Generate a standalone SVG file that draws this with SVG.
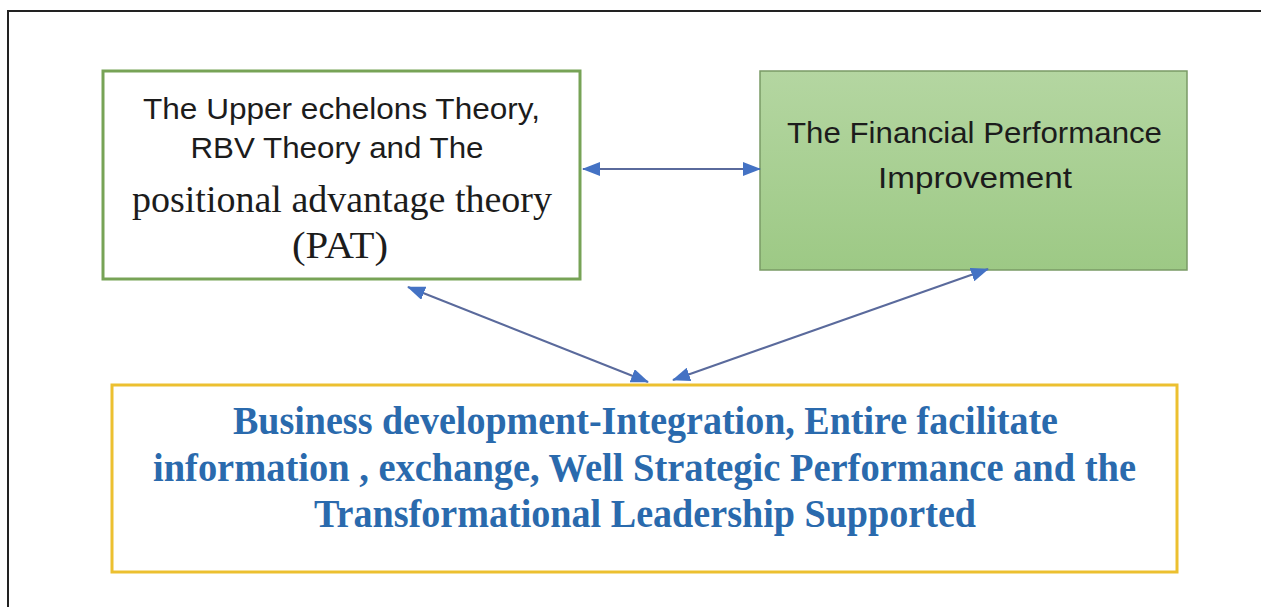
<svg xmlns="http://www.w3.org/2000/svg" width="1261" height="607" viewBox="0 0 1261 607">
<style>
.sans{font-family:"Liberation Sans","DejaVu Sans",sans-serif;fill:#1c1c1c;text-anchor:middle}
.serif{font-family:"Liberation Serif","DejaVu Serif",serif;fill:#1c1c1c;text-anchor:middle}
.bold{font-family:"Liberation Serif","DejaVu Serif",serif;font-weight:bold;fill:#2a6aad;text-anchor:middle;font-size:40px}
.conn{stroke:#5a6a9c;stroke-width:2;fill:none;marker-start:url(#ah);marker-end:url(#ah)}
</style>
<defs>
<marker id="ah" viewBox="0 0 18 14" refX="17" refY="7" markerWidth="18" markerHeight="14" markerUnits="userSpaceOnUse" orient="auto-start-reverse">
<path d="M0,0 L18,7 L0,14 Z" fill="#4472c4"/>
</marker>
<linearGradient id="gr" x1="0" y1="0" x2="0" y2="1">
<stop offset="0" stop-color="#b4d6a1"/>
<stop offset="1" stop-color="#9dc985"/>
</linearGradient>
</defs>
<rect width="1261" height="607" fill="#ffffff"/>
<path d="M8,607 L8,11 L1261,11" fill="none" stroke="#222" stroke-width="2"/>
<g id="node-theories">
<rect x="103" y="71" width="477" height="208" fill="#ffffff" stroke="#77a356" stroke-width="3"/>
<text class="sans" x="341.5" y="119" font-size="30" textLength="397" lengthAdjust="spacingAndGlyphs">The Upper echelons Theory,</text>
<text class="sans" x="337" y="158" font-size="30" textLength="293" lengthAdjust="spacingAndGlyphs">RBV Theory and The</text>
<text class="serif" x="342" y="212" font-size="37" textLength="420" lengthAdjust="spacingAndGlyphs">positional advantage theory</text>
<text class="serif" x="340" y="258" font-size="37" textLength="96" lengthAdjust="spacingAndGlyphs">(PAT)</text>
</g>
<g id="node-financial">
<rect x="760" y="71" width="427" height="199" fill="url(#gr)" stroke="#7a9a66" stroke-width="1.5"/>
<text class="sans" x="974.5" y="143" font-size="30" fill="#1e2a1a" textLength="375" lengthAdjust="spacingAndGlyphs">The Financial Performance</text>
<text class="sans" x="975" y="188" font-size="30" fill="#1e2a1a" textLength="194" lengthAdjust="spacingAndGlyphs">Improvement</text>
</g>
<g id="node-business">
<rect x="112" y="385" width="1065" height="187" fill="#ffffff" stroke="#ecc030" stroke-width="3"/>
<text class="bold" x="645.5" y="434" textLength="825" lengthAdjust="spacingAndGlyphs">Business development-Integration, Entire facilitate</text>
<text class="bold" x="644.5" y="481" textLength="983" lengthAdjust="spacingAndGlyphs">information , exchange, Well Strategic Performance and the</text>
<text class="bold" x="645" y="527" textLength="662" lengthAdjust="spacingAndGlyphs">Transformational Leadership Supported</text>
</g>
<g id="connectors">
<line class="conn" x1="583" y1="169" x2="760" y2="169"/>
<line class="conn" x1="408" y1="287" x2="648" y2="382"/>
<line class="conn" x1="988" y1="269" x2="673" y2="380"/>
</g>
</svg>
